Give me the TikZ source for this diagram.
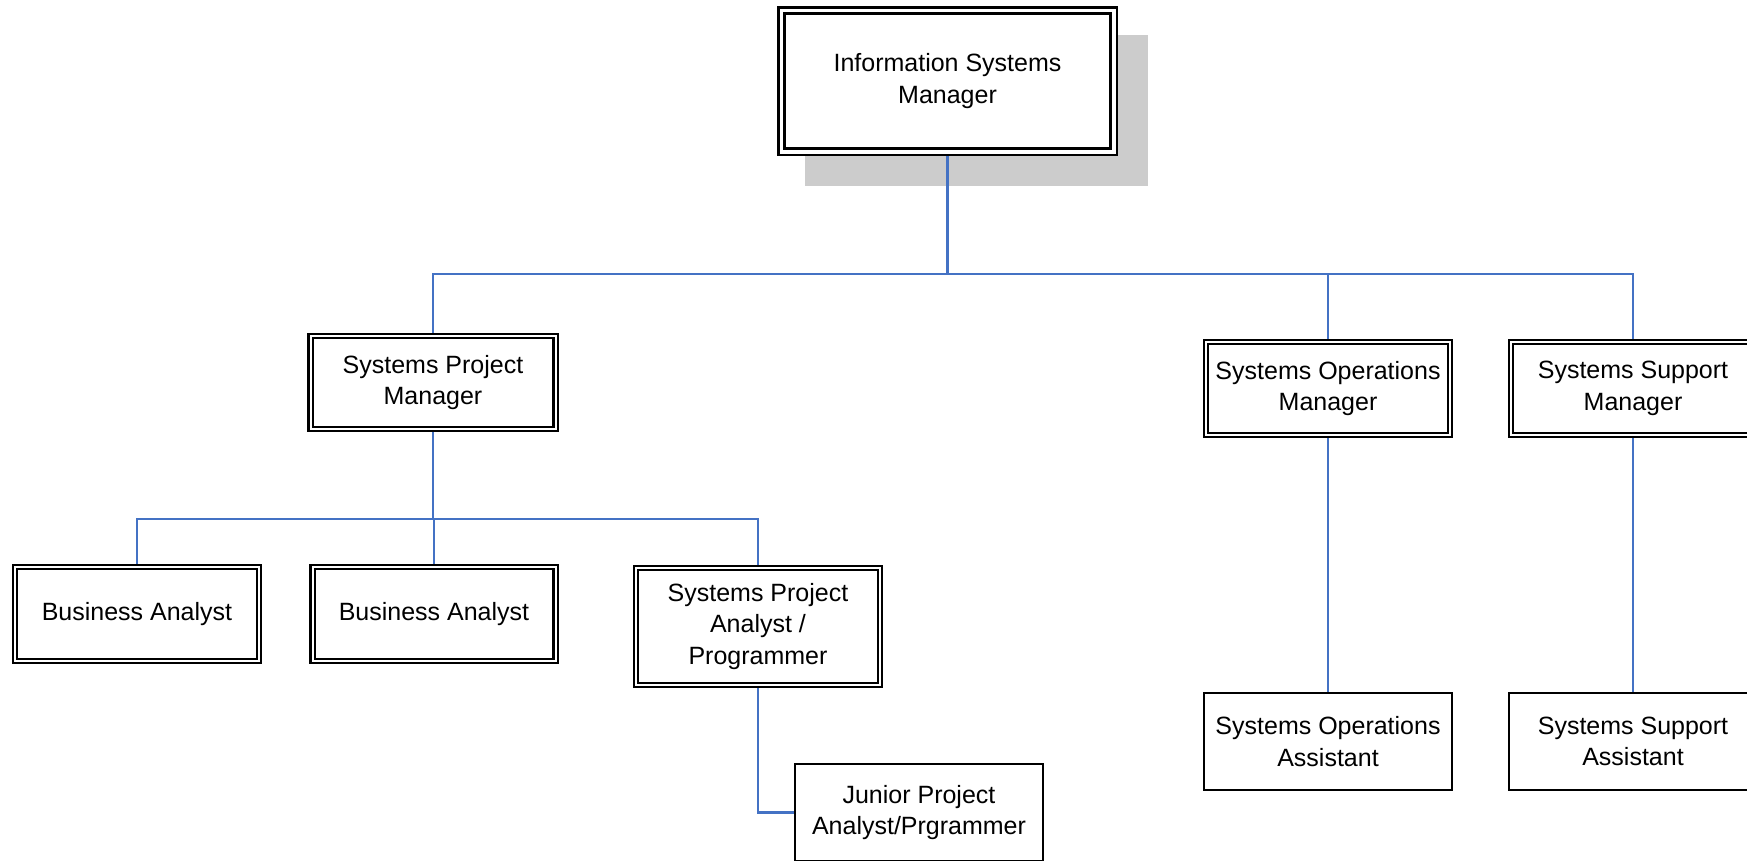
\documentclass[tikz,border=0pt]{standalone}
\usepackage{fontspec}
\setmainfont{Liberation Sans}
\definecolor{linkblue}{RGB}{68,114,196}
\definecolor{shadowgray}{RGB}{204,204,204}
\pgfdeclarelayer{bg}
\pgfsetlayers{bg,main}
\begin{document}
\begin{tikzpicture}[x=1pt,y=-1pt,
  every node/.style={inner sep=0pt,outer sep=0pt,align=center,
    font=\fontsize{25}{31.5}\selectfont},
  dbox/.style={draw=black,fill=white,line width=2.2pt,double=white,
    double distance=2pt},
  topbox/.style={draw=black,fill=white,line width=2.6pt,double=white,
    double distance=3.5pt},
  sbox/.style={draw=black,fill=white,line width=2.2pt,
    minimum width=248pt,minimum height=97pt},
  link/.style={draw=linkblue,line width=2.5pt}]
\useasboundingbox (0,0) rectangle (1747,860);

% top-level manager
\node[topbox,minimum width=332.5pt,minimum height=141.5pt] (ism) at (947.5,81)
  {Information Systems\\Manager};

% second level
\node[dbox,minimum width=245pt,minimum height=93pt] (spm) at (433,382.5)
  {Systems Project\\Manager};
\node[dbox,minimum width=244pt,minimum height=93pt] (som) at (1328,388.5)
  {Systems Operations\\Manager};
\node[dbox,minimum width=244pt,minimum height=93pt] (ssm) at (1633,388.5)
  {Systems Support\\Manager};

% project team
\node[dbox,minimum width=244pt,minimum height=94pt] (ba1) at (137,614)
  {Business Analyst};
\node[dbox,minimum width=243pt,minimum height=94pt] (ba2) at (434,614)
  {Business Analyst};
\node[dbox,minimum width=244pt,minimum height=117pt] (spa) at (758,626.5)
  {Systems Project\\Analyst /\\Programmer};
\node[sbox] (jr) at (919,812.5) {Junior Project\\Analyst/Prgrammer};

% assistants
\node[sbox] (soa) at (1328,741.5) {Systems Operations\\Assistant};
\node[sbox] (ssa) at (1633,741.5) {Systems Support\\Assistant};

\coordinate (b1) at (947.5,274);
\coordinate (b2) at (433,519);

\begin{pgfonlayer}{bg}
  % drop shadow of the top box
  \fill[shadowgray] (805,35) rectangle (1148,186);
  % connectors
  \draw[link] (ism.center) -- (b1);
  \draw[link] (spm.center) |- (b1) -| (ssm.center);
  \draw[link] (som.center) -- (som.center |- b1);
  \draw[link] (spm.center) -- (b2);
  \draw[link] (ba1.center) |- (b2) -| (spa.center);
  \draw[link] (ba2.center) -- (ba2.center |- b2);
  \draw[link] (spa.center) |- (jr.center);
  \draw[link] (som.center) -- (soa.center);
  \draw[link] (ssm.center) -- (ssa.center);
\end{pgfonlayer}
\end{tikzpicture}
\end{document}
